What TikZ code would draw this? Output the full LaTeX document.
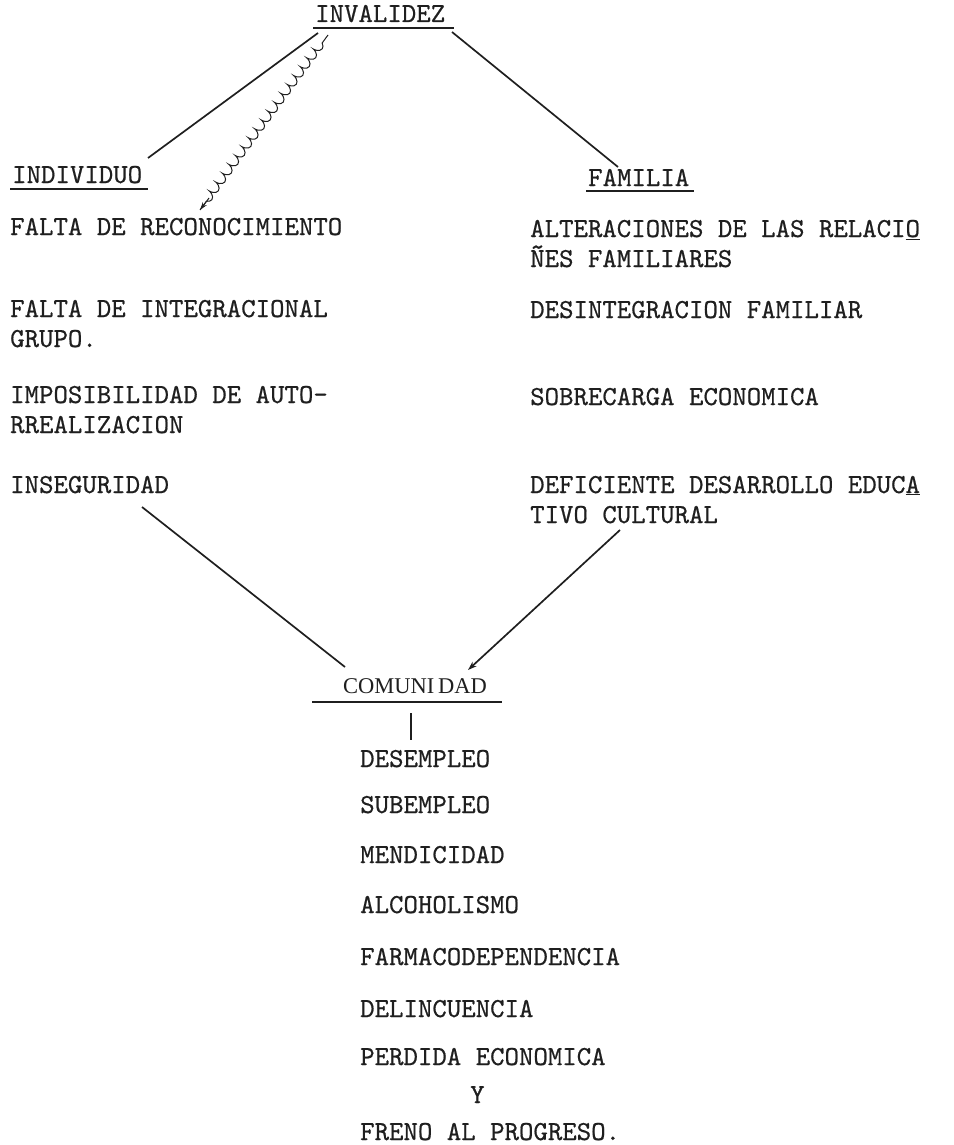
\documentclass[tikz,border=0pt]{standalone}
\usepackage{fontspec}
\setmonofont{lmmono10-regular.otf}[FakeBold=0.6]
\newfontfamily\comfont{Liberation Serif}
\usetikzlibrary{decorations.pathmorphing,arrows.meta}
\definecolor{ink}{gray}{0.12}
\tikzset{
  txt/.style={anchor=base west, inner sep=0pt, text=ink, font=\ttfamily\fontsize{27.5}{32}\selectfont},
  conn/.style={draw=ink, line width=1.7pt},
  uline/.style={draw=ink, line width=1.3pt},
}
\begin{document}
\begin{tikzpicture}[x=1pt,y=-1pt]
\useasboundingbox (0,0) rectangle (953,1145);
% headings
\node[txt] (inv) at (315,22) {INVALIDEZ};
\draw[uline] (313,28) -- (454,28);
\node[txt] (ind) at (12,183) {INDIVIDUO};
\draw[uline] (10,189) -- (148,189);
\node[txt] (fam) at (588,186) {FAMILIA};
\draw[uline] (586,191) -- (694,191);
% left column
\node[txt] (l1) at (10,235) {FALTA DE RECONOCIMIENTO};
\node[txt] (l2) at (10,317) {FALTA DE INTEGRACIONAL};
\node[txt] (l2b) at (10,347) {GRUPO.};
\node[txt] (l3) at (10,403) {IMPOSIBILIDAD DE AUTO-};
\node[txt] (l3b) at (10,433) {RREALIZACION};
\node[txt] (l4) at (10,493) {INSEGURIDAD};
% right column
\node[txt] (r1) at (530,237) {ALTERACIONES DE LAS RELACI\underline{O}};
\node[txt] (r1b) at (530,267) {ÑES FAMILIARES};
\node[txt] (r2) at (530,318) {DESINTEGRACION FAMILIAR};
\node[txt] (r3) at (530,405) {SOBRECARGA ECONOMICA};
\node[txt] (r4) at (530,493) {DEFICIENTE DESARROLLO EDUC\underline{A}};
\node[txt] (r4b) at (530,523) {TIVO CULTURAL};
% comunidad
\node[anchor=base west, inner sep=0pt, text=ink, font=\comfont\fontsize{22.5}{26}\selectfont] (com) at (343,693) {COMUNI\,DAD};
\draw[draw=ink, line width=2.4pt] (312,702) -- (502,702);
% list
\node[txt] (c1) at (360,767) {DESEMPLEO};
\node[txt] (c2) at (360,813) {SUBEMPLEO};
\node[txt] (c3) at (360,863) {MENDICIDAD};
\node[txt] (c4) at (360,913) {ALCOHOLISMO};
\node[txt] (c5) at (360,965) {FARMACODEPENDENCIA};
\node[txt] (c6) at (360,1017) {DELINCUENCIA};
\node[txt] (c7) at (360,1065) {PERDIDA ECONOMICA};
\node[txt] (c8) at (470,1103) {Y};
\node[txt] (c9) at (360,1140) {FRENO AL PROGRESO.};
% connector end points
\coordinate (invL) at (318,33);
\coordinate (invW) at (328,35);
\coordinate (invR) at (452,32);
\coordinate (indE) at (148,158);
\coordinate (wavE) at (200,210);
\coordinate (wavA) at (209,198);
\coordinate (famE) at (618,167);
\coordinate (insE) at (142,507);
\coordinate (comL) at (345,667);
\coordinate (defE) at (620,530);
\coordinate (comR) at (468,670);
\coordinate (comB) at (411,713);
\coordinate (c1T) at (411,740);
% connectors
\draw[conn] (invL) -- (indE);
\draw[draw=ink, line width=1pt, decorate, decoration={coil, amplitude=3.5pt, segment length=11pt, pre length=10pt, post length=8pt}] (invW) -- (wavE);
\draw[draw=ink, line width=1pt, -{Stealth[length=8pt,width=5pt]}] (wavA) -- (wavE);
\draw[conn] (invR) -- (famE);
\draw[conn] (insE) -- (comL);
\draw[conn, -{Stealth[length=9pt,width=6pt]}] (defE) -- (comR);
\draw[conn] (comB) -- (c1T);
\end{tikzpicture}
\end{document}
